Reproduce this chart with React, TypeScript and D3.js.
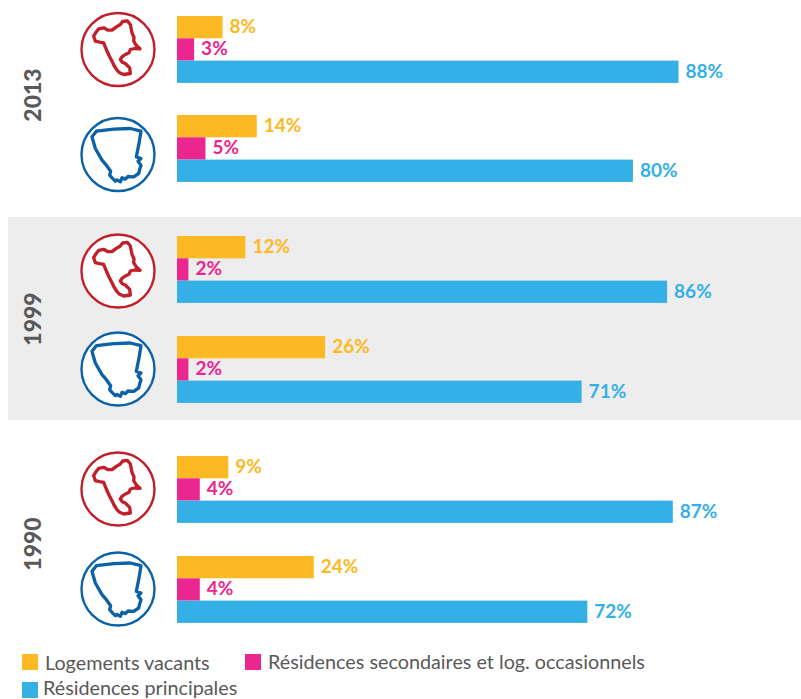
import React from "react";
import * as d3 from "d3";

const years = ["2013", "1999", "1990"];
const vacants = [8, 14, 12, 26, 9, 24];
const secondaires = [3, 5, 2, 2, 4, 4];
const principales = [88, 80, 86, 71, 87, 72];
const groupTops = [16, 115, 236, 336, 456, 556];
const iconCentres = [49.5, 154.5, 271, 369, 489, 589];
const yearCentres = [95, 319, 544];
const seriesColours = ["#FDB924", "#EC268F", "#35B0E6"];
const legendLabels = ["Logements vacants", "Résidences secondaires et log. occasionnels", "Résidences principales"];

// Commune and territory outlines, in local units around the centre of their circle.
const communeOutline: [number, number][] = [
  [-73, -40], [-66, -52], [-58, -62], [-43, -65], [-30, -58], [-18, -58], [-5, -68], [7, -75], [14, -84],
  [28, -86], [37, -75], [40, -60], [42, -50], [48, -36], [47, -25], [55, -12], [66, -2], [50, -3], [37, 0],
  [33, 10], [22, 15], [12, 22], [7, 30], [13, 38], [22, 42], [35, 55], [37, 72], [17, 75], [5, 70], [-3, 62],
  [-12, 48], [-18, 35], [-27, 18], [-35, 0], [-43, -20], [-55, -22], [-68, -25],
];
const territoryOutline: [number, number][] = [
  [-78, -53], [-65, -70], [-13, -76], [37, -78], [69, -70], [65, -45], [62, -28], [55, 7], [69, 12], [60, 20],
  [69, 32], [65, 45], [62, 57], [47, 67], [30, 66], [22, 74], [12, 70], [7, 82], [-3, 76], [-8, 80], [-18, 70],
  [-25, 62], [-22, 50], [-35, 32], [-48, 17], [-68, -18], [-73, -35],
];

const FONT = "Lato, Carlito, sans-serif";
const x = d3.scaleLinear().domain([0, 88]).range([177, 678.5]);
const outlinePath = d3.line().curve(d3.curveLinearClosed);

function Icon({ cy, colour, outline }: { cy: number; colour: string; outline: [number, number][] }) {
  return (
    <g transform={`translate(118,${cy})`}>
      <circle r={36.5} fill="#fff" stroke={colour} strokeWidth={2.4} />
      <path d={outlinePath(outline) ?? ""} transform="scale(0.3333)" fill="#fff" stroke={colour} strokeWidth={10} strokeLinejoin="round" />
    </g>
  );
}

export default function App() {
  return (
    <svg width={801} height={699} style={{ position: "absolute", left: 0, top: 0 }} fontFamily={FONT}>
      <rect x={8} y={217} width={793} height={203} fill="#EDEDED" />
      {years.map((year, i) => (
        <text
          key={year}
          transform={`translate(41,${yearCentres[i]}) rotate(-90)`}
          textAnchor="middle"
          fontSize={23}
          fontWeight={900}
          fill="#595959"
        >
          {year}
        </text>
      ))}
      {groupTops.map((top, i) => {
        const rows = [vacants[i], secondaires[i], principales[i]];
        const isCommune = i % 2 === 0;
        return (
          <g key={i}>
            <Icon
              cy={iconCentres[i]}
              colour={isCommune ? "#C1202B" : "#0C62A6"}
              outline={isCommune ? communeOutline : territoryOutline}
            />
            {rows.map((value, r) => (
              <g key={r}>
                <rect x={x(0)} y={top + r * 22.3} width={x(value) - x(0)} height={22.3} fill={seriesColours[r]} />
                <text
                  x={x(value) + 7}
                  y={top + r * 22.3 + 17}
                  fontSize={19}
                  fontWeight={700}
                  fill={seriesColours[r]}
                >
                  {value}%
                </text>
              </g>
            ))}
          </g>
        );
      })}
      <rect x={22} y={654} width={16} height={16} fill={seriesColours[0]} />
      <text x={45} y={670} fontSize={19.8} fill="#595959">{legendLabels[0]}</text>
      <rect x={245} y={654} width={16} height={16} fill={seriesColours[1]} />
      <text x={268} y={669} fontSize={19.8} fill="#595959">{legendLabels[1]}</text>
      <rect x={22} y={682} width={16} height={16} fill={seriesColours[2]} />
      <text x={43} y={695} fontSize={19.8} fill="#595959">{legendLabels[2]}</text>
    </svg>
  );
}
